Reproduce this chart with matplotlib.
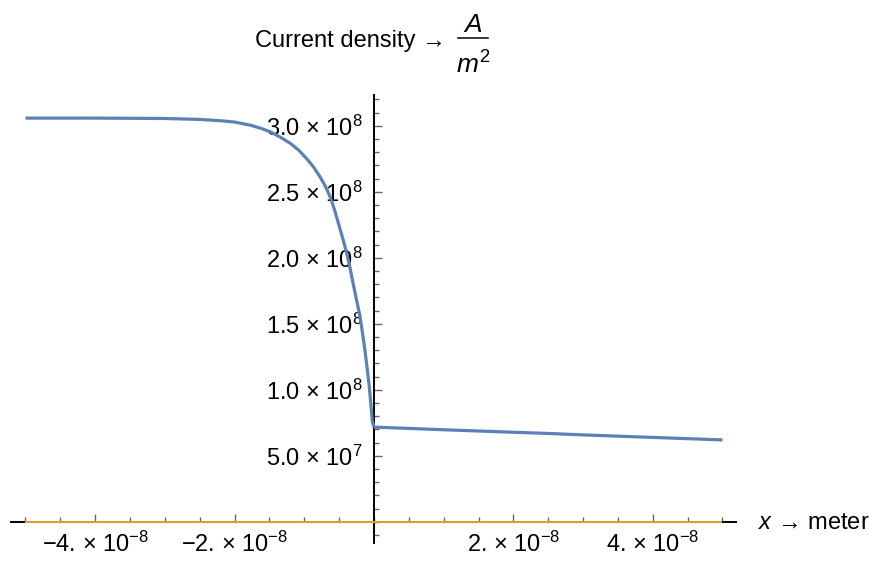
import numpy as np
import matplotlib
matplotlib.use("Agg")
import matplotlib.pyplot as plt
from matplotlib.lines import Line2D
from matplotlib.ticker import FixedLocator, MultipleLocator, NullFormatter

# Current density (x in metres, J in A/m^2)
x_left = [-5.0e-8, -4.0e-8, -3.0e-8, -2.5e-8, -2.2e-8, -2.0e-8, -1.78e-8, -1.63e-8,
          -1.49e-8, -1.35e-8, -1.2e-8, -1.08e-8, -0.97e-8, -0.87e-8, -0.775e-8,
          -0.70e-8, -0.63e-8, -0.57e-8, -0.51e-8, -0.45e-8, -0.39e-8, -0.345e-8,
          -0.30e-8, -0.25e-8, -0.20e-8, -0.165e-8, -0.13e-8, -0.10e-8, -0.067e-8,
          -0.045e-8, -0.024e-8, 0.0]
j_left = [3.058e8, 3.058e8, 3.055e8, 3.048e8, 3.038e8, 3.028e8, 3.005e8, 2.982e8,
          2.955e8, 2.915e8, 2.867e8, 2.815e8, 2.753e8, 2.690e8, 2.614e8,
          2.545e8, 2.462e8, 2.370e8, 2.261e8, 2.150e8, 2.033e8, 1.925e8,
          1.806e8, 1.680e8, 1.553e8, 1.430e8, 1.301e8, 1.170e8, 1.023e8,
          0.890e8, 0.760e8, 0.717e8]

x_right = [0.0, 1.0e-8, 2.0e-8, 2.5e-8, 3.0e-8, 4.0e-8, 5.0e-8]
j_right = [0.717e8, 0.697e8, 0.678e8, 0.669e8, 0.658e8, 0.639e8, 0.620e8]

# second series: flat zero
x_zero = [-5.0e-8, 5.0e-8]
j_zero = [0.0, 0.0]

x_ticks = [-4e-8, -2e-8, 2e-8, 4e-8]
x_tick_labels = ["\u22124. \u00d7 10$^{\u22128}$", "\u22122. \u00d7 10$^{\u22128}$",
                 "2. \u00d7 10$^{\u22128}$", "4. \u00d7 10$^{\u22128}$"]
y_ticks = [0.5e8, 1.0e8, 1.5e8, 2.0e8, 2.5e8, 3.0e8]
y_tick_labels = ["5.0 \u00d7 10$^{7}$", "1.0 \u00d7 10$^{8}$", "1.5 \u00d7 10$^{8}$",
                 "2.0 \u00d7 10$^{8}$", "2.5 \u00d7 10$^{8}$", "3.0 \u00d7 10$^{8}$"]

plt.rcParams['font.family'] = ['Liberation Sans', 'DejaVu Sans']
plt.rcParams['mathtext.fontset'] = 'custom'
plt.rcParams['mathtext.rm'] = 'Liberation Sans'
plt.rcParams['mathtext.it'] = 'Liberation Sans:italic'
plt.rcParams['mathtext.default'] = 'regular'

fig = plt.figure(figsize=(8.7, 5.65), dpi=100)
ax = fig.add_axes([11 / 870, 1 - 543 / 565, 725 / 870, 448 / 565])
ax.set_xlim(-5.208e-8, 5.194e-8)
ax.set_ylim(-0.161e8, 3.233e8)

ax.plot(x_zero, j_zero, color='#E19C24', lw=1.5, zorder=4, solid_capstyle='butt')
ax.plot(x_left, j_left, color='#5E81B5', lw=2.3, zorder=5, solid_capstyle='butt')
ax.plot(x_right, j_right, color='#5E81B5', lw=2.3, zorder=5, solid_capstyle='butt')

for side in ['top', 'right']:
    ax.spines[side].set_visible(False)
ax.spines['left'].set_position(('data', 0))
ax.spines['bottom'].set_position(('data', 0))
for side in ['left', 'bottom']:
    ax.spines[side].set_linewidth(1.4)
    ax.spines[side].set_color('black')

ax.xaxis.set_major_locator(FixedLocator(x_ticks))
ax.set_xticklabels(x_tick_labels)
ax.xaxis.set_minor_locator(MultipleLocator(0.5e-8))
ax.yaxis.set_major_locator(FixedLocator(y_ticks))
ax.set_yticklabels(y_tick_labels)
ax.yaxis.set_minor_locator(MultipleLocator(0.1e8))
ax.xaxis.set_minor_formatter(NullFormatter())
ax.yaxis.set_minor_formatter(NullFormatter())

ax.tick_params(which='both', direction='in', color='#666666', width=1.0,
               labelsize=17, labelcolor='black')
ax.tick_params(which='major', length=6)
ax.tick_params(which='minor', length=3.5)
ax.tick_params(axis='x', which='major', pad=7)
ax.tick_params(axis='y', which='major', pad=8)
ax.patch.set_alpha(0)

# axis labels, placed like Mathematica's AxesLabel
fig.text(758 / 870, 1 - 523 / 565, "$\\it{x}$ \u2192 meter", fontsize=17,
         ha='left', va='center')
fig.text(255 / 870, 1 - 47 / 565, "Current density \u2192", fontsize=17,
         ha='left', va='baseline')
fig.text(473 / 870, 1 - 32 / 565, "$\\it{A}$", fontsize=19,
         ha='center', va='baseline')
fig.text(473 / 870, 1 - 74 / 565, "$\\it{m}^{2}$", fontsize=19,
         ha='center', va='baseline')
fig.add_artist(Line2D([458 / 870, 488 / 870], [1 - 38 / 565, 1 - 38 / 565],
                      transform=fig.transFigure, color='black', lw=1.1))

fig.savefig("out.png", dpi=100)
